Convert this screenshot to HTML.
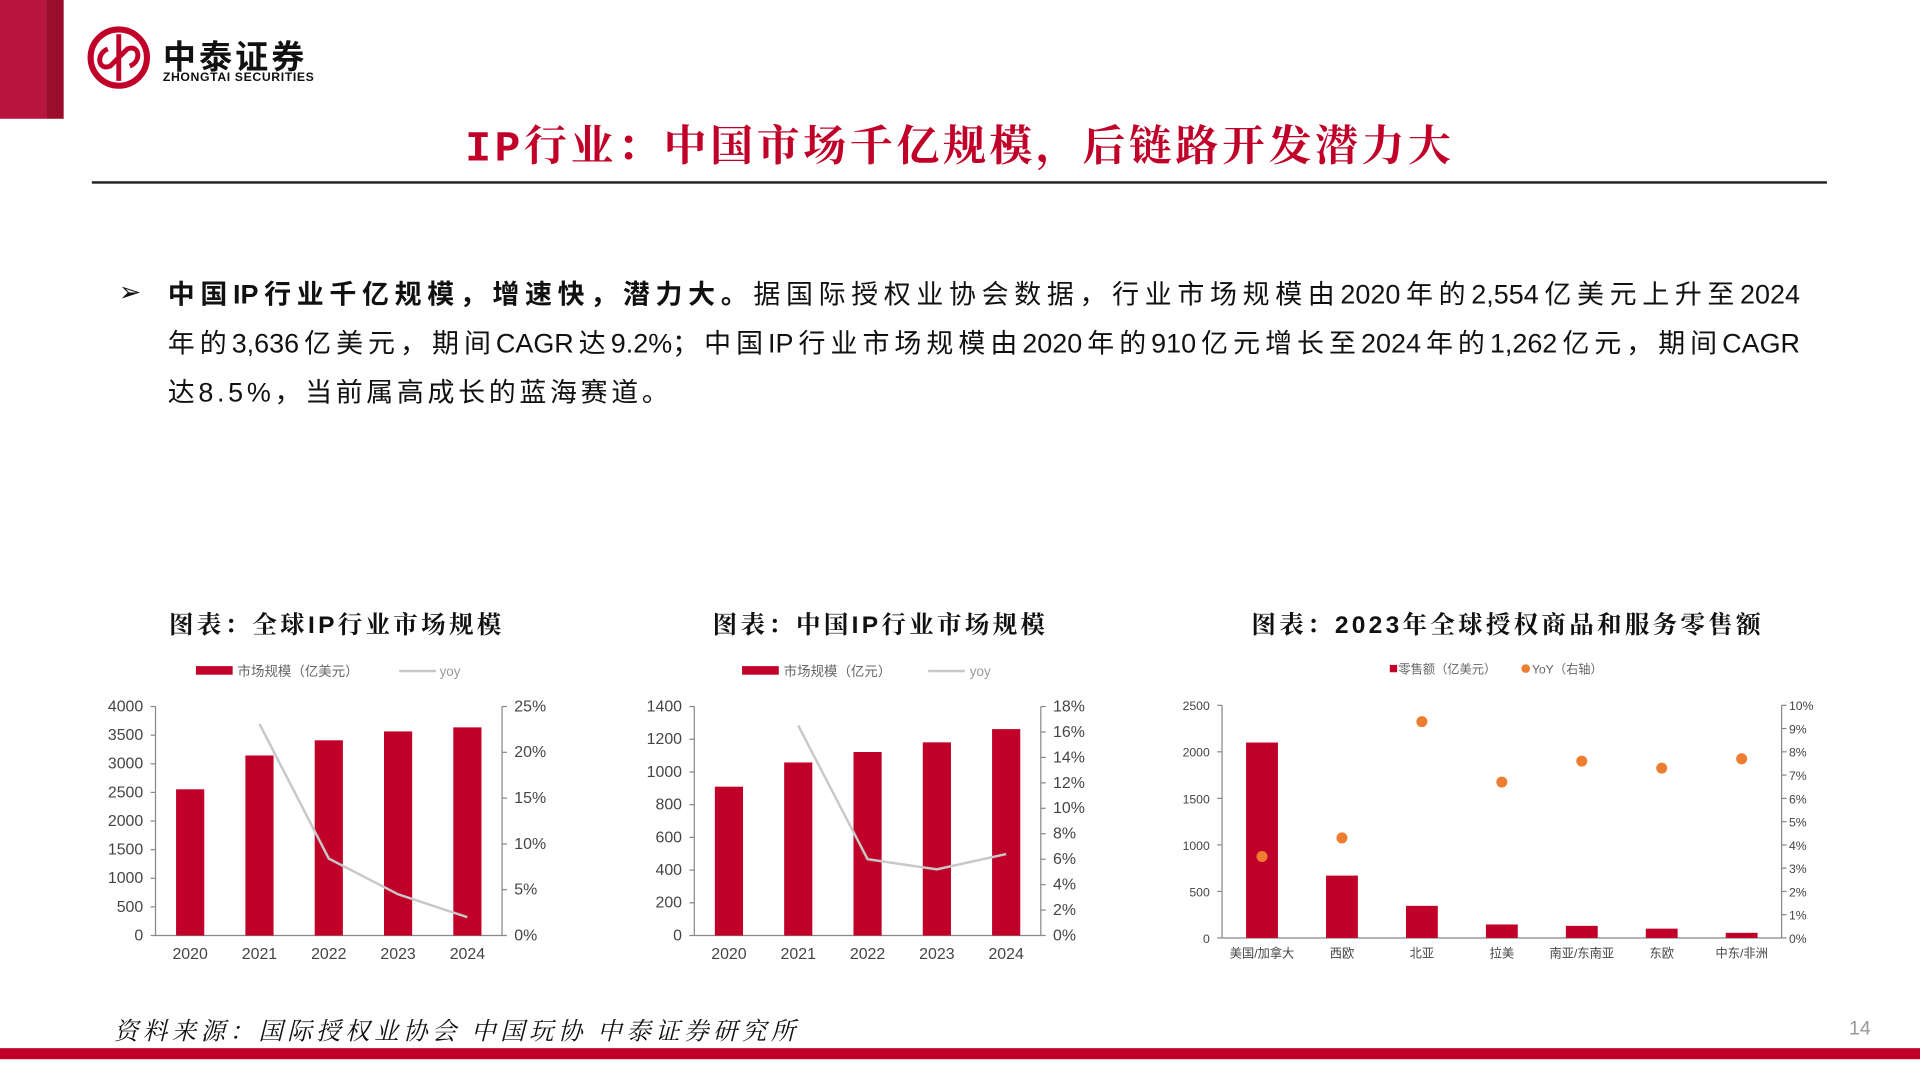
<!DOCTYPE html>
<html><head><meta charset="utf-8"><style>
html,body{margin:0;padding:0;width:1920px;height:1080px;overflow:hidden;background:#fff}
#s{position:absolute;left:0;top:0;width:1568px;height:882px;transform:scale(1.22449);transform-origin:0 0;font-family:"Liberation Sans","Noto Sans CJK SC",sans-serif}
.a{position:absolute}
svg text{font-family:"Liberation Sans","Noto Sans CJK SC",sans-serif}
.ln{display:block;white-space:nowrap}
.j{text-align:justify;text-align-last:justify;text-justify:inter-character}
.ct{font-size:20px;font-weight:bold;color:#111;font-family:"Liberation Sans","Noto Serif CJK SC",serif;letter-spacing:2.7px}
</style></head><body>
<div id="s">
<div class="a" style="left:0;top:0;width:38px;height:97px;background:#b8163f"></div>
<div class="a" style="left:38px;top:0;width:14px;height:97px;background:#9b0d2c"></div>
<svg class="a" style="left:70px;top:20px" width="54" height="54"><circle cx="27" cy="27" r="23" fill="none" stroke="#c00028" stroke-width="5"/><path d="M27 8 V46 M18 20 C8 24 10 38 20 34 L34 20 C44 16 46 30 36 34" fill="none" stroke="#c00028" stroke-width="4"/></svg>
<div class="a" style="left:133px;top:25px;font-size:27px;font-weight:bold;color:#111;letter-spacing:2.5px">中泰证券</div>
<div class="a" style="left:133px;top:58px;font-size:10px;font-weight:bold;color:#111;letter-spacing:0.5px">ZHONGTAI SECURITIES</div>
<div class="a" style="left:0;width:1568px;top:92px;text-align:center;font-size:35px;font-weight:bold;color:#c00028;letter-spacing:3px;font-family:'Liberation Mono','Noto Serif CJK SC',serif">IP行业：中国市场千亿规模，后链路开发潜力大</div>
<div class="a" style="left:75px;top:148px;width:1417px;height:2px;background:#222"></div>
<div class="a" style="left:97px;top:226px;font-size:22px;color:#111">➢</div>
<div class="a" style="left:137px;top:221px;width:1333px;font-size:22px;line-height:40px;color:#111">
<span class="ln j"><b>中国IP行业千亿规模，增速快，潜力大。</b>据国际授权业协会数据，行业市场规模由2020年的2,554亿美元上升至2024</span>
<span class="ln j">年的3,636亿美元，期间CAGR达9.2%；中国IP行业市场规模由2020年的910亿元增长至2024年的1,262亿元，期间CAGR</span>
<span class="ln" style="letter-spacing:3px">达8.5%，当前属高成长的蓝海赛道。</span></div>
<div class="a ct" style="left:138px;top:494px">图表：全球IP行业市场规模</div>
<div class="a ct" style="left:582px;top:494px">图表：中国IP行业市场规模</div>
<div class="a ct" style="left:1022px;top:494px">图表：2023年全球授权商品和服务零售额</div>
<svg id="c" class="a" style="left:0;top:0" width="1568" height="882"></svg>
<div class="a" style="left:93px;top:826px;font-size:20px;font-style:italic;color:#111;letter-spacing:3.6px;font-family:'Liberation Serif','Noto Serif CJK SC',serif">资料来源：国际授权业协会 中国玩协 中泰证券研究所</div>
<div class="a" style="left:1510px;top:832px;font-size:16px;color:#999">14</div>
<div class="a" style="left:0;top:856px;width:1568px;height:9px;background:#c00028"></div>
</div>
<script>
const c1Cats=["2020","2021","2022","2023","2024"];
const c1Vals=[2554,3145,3410,3565,3636];
const c1Yoy=[null,23.1,8.4,4.5,2.0];
const c1LTicks=[0,500,1000,1500,2000,2500,3000,3500,4000];
const c1RTicks=[0,5,10,15,20,25];
const c2Cats=["2020","2021","2022","2023","2024"];
const c2Vals=[910,1058,1122,1181,1262];
const c2Yoy=[null,16.5,6.0,5.2,6.4];
const c2LTicks=[0,200,400,600,800,1000,1200,1400];
const c2RTicks=[0,2,4,6,8,10,12,14,16,18];
const c3Cats=["美国/加拿大","西欧","北亚","拉美","南亚/东南亚","东欧","中东/非洲"];
const c3Vals=[2100,670,345,145,130,100,55];
const c3Yoy=[3.5,4.3,9.3,6.7,7.6,7.3,7.7];
const c3LTicks=[0,500,1000,1500,2000,2500];
const c3RTicks=[0,1,2,3,4,5,6,7,8,9,10];
const svg=document.getElementById('c');
const NS="http://www.w3.org/2000/svg";
function mk(t,a,txt){const e=document.createElementNS(NS,t);for(const k in a)e.setAttribute(k,a[k]);if(txt!==undefined)e.textContent=txt;svg.appendChild(e);return e;}
function chart(o){
  const yL=v=>o.y1-(v/o.lMax)*(o.y1-o.y0);
  const yR=v=>o.y1-(v/o.rMax)*(o.y1-o.y0);
  const bw=(o.x1-o.x0)/o.cats.length;
  const xc=i=>o.x0+bw*(i+0.5);
  let e;
  e=mk('line',{x1:o.x0,y1:o.y0,x2:o.x0,y2:o.y1,stroke:'#888'});
  
  e=mk('line',{x1:o.x1,y1:o.y0,x2:o.x1,y2:o.y1,stroke:'#888'});
  
  e=mk('line',{x1:o.x0,y1:o.y1,x2:o.x1,y2:o.y1,stroke:'#888'});
  
  o.lt.forEach(v=>{mk('line',{x1:o.x0-4,x2:o.x0,y1:yL(v),y2:yL(v),stroke:'#888'});
    e=mk('text',{x:o.x0-10,y:yL(v)+4,'text-anchor':'end','font-size':o.fs,fill:'#444'},v);
    });
  o.rt.forEach(v=>{mk('line',{x1:o.x1,x2:o.x1+4,y1:yR(v),y2:yR(v),stroke:'#888'});
    e=mk('text',{x:o.x1+(o.fs<11?6:10),y:yR(v)+4,'font-size':o.fs,fill:'#444'},v+'%');
    });
  o.cats.forEach((c,i)=>{
    e=mk('rect',{x:xc(i)-o.bar/2,y:yL(o.vals[i]),width:o.bar,height:o.y1-yL(o.vals[i]),fill:'#c00028'});
    
    e=mk('text',{x:xc(i),y:o.y1+(o.fs<11?16:19),'text-anchor':'middle','font-size':o.fs,fill:'#444'},c);
    
  });
  if(o.dots){o.yoy.forEach((v,i)=>{e=mk('circle',{cx:xc(i),cy:yR(v),r:4.5,fill:'#ed7d31'});
    });}
  else{let d='';o.yoy.forEach((v,i)=>{if(v==null)return;d+=(d?'L':'M')+xc(i)+' '+yR(v)+' ';});
    e=mk('path',{d:d,fill:'none',stroke:'#c8c8c8','stroke-width':2});
    }
}
chart({p:'chart1',x0:127,x1:410,y0:577,y1:764,lMax:4000,rMax:25,cats:c1Cats,vals:c1Vals,yoy:c1Yoy,lt:c1LTicks,rt:c1RTicks,bar:23,fs:13});
chart({p:'chart2',x0:567,x1:850,y0:577,y1:764,lMax:1400,rMax:18,cats:c2Cats,vals:c2Vals,yoy:c2Yoy,lt:c2LTicks,rt:c2RTicks,bar:23,fs:13});
chart({p:'chart3',x0:998,x1:1455,y0:576,y1:766,lMax:2500,rMax:10,cats:c3Cats,vals:c3Vals,yoy:c3Yoy,lt:c3LTicks,rt:c3RTicks,bar:26,fs:10,dots:true});
let e;
e=mk('rect',{x:160,y:544,width:30,height:7,fill:'#c00028'});
e=mk('text',{x:194,y:552,'font-size':11,fill:'#666'},'市场规模（亿美元）');
e=mk('line',{x1:326,x2:356,y1:548,y2:548,stroke:'#c8c8c8','stroke-width':2});
e=mk('text',{x:359,y:552,'font-size':11,fill:'#999'},'yoy');
e=mk('rect',{x:606,y:544,width:30,height:7,fill:'#c00028'});
e=mk('text',{x:640,y:552,'font-size':11,fill:'#666'},'市场规模（亿元）');
e=mk('line',{x1:758,x2:788,y1:548,y2:548,stroke:'#c8c8c8','stroke-width':2});
e=mk('text',{x:792,y:552,'font-size':11,fill:'#999'},'yoy');
e=mk('rect',{x:1135,y:543,width:6,height:6,fill:'#c00028'});
e=mk('text',{x:1142,y:550,'font-size':10,fill:'#666'},'零售额（亿美元）');
e=mk('circle',{cx:1246,cy:546,r:3.5,fill:'#ed7d31'});
e=mk('text',{x:1251,y:550,'font-size':10,fill:'#666'},'YoY（右轴）');
</script>
</body></html>
